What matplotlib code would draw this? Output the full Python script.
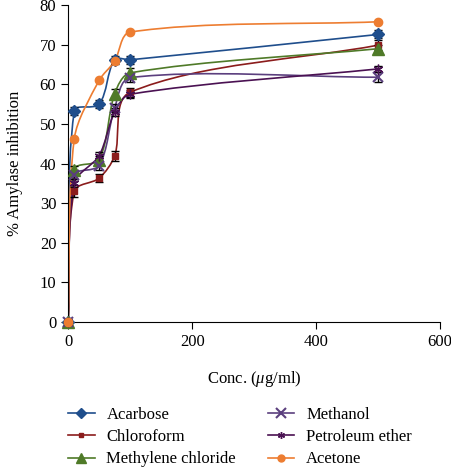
import numpy as np
import matplotlib.pyplot as plt
from matplotlib.path import Path
from matplotlib.patches import PathPatch
from matplotlib.lines import Line2D

plt.rcParams['font.family'] = ['Liberation Serif', 'DejaVu Serif']
plt.rcParams['mathtext.fontset'] = 'custom'
plt.rcParams['mathtext.it'] = 'Liberation Serif:italic'
plt.rcParams['mathtext.rm'] = 'Liberation Serif'

conc = [0, 10, 50, 75, 100, 500]
acarbose = [0, 53.3, 55.0, 66.2, 66.2, 72.6]
chloroform = [0, 33.0, 36.3, 41.9, 58.0, 69.9]
methylene = [0, 38.5, 41.0, 57.6, 62.9, 69.0]
methanol = [0, 37.0, 39.5, 54.0, 61.7, 61.8]
pet_ether = [0, 35.0, 42.0, 53.0, 57.5, 63.9]
acetone = [0, 46.3, 61.0, 65.8, 73.2, 75.8]

err_acarbose = [0.5, 1.0, 1.0, 1.0, 1.0, 1.0]
err_chloroform = [0.5, 1.5, 1.0, 1.2, 1.2, 1.2]
err_methylene = [0.5, 1.0, 1.0, 1.2, 1.2, 1.0]
err_methanol = [0.5, 1.0, 1.0, 1.0, 1.0, 1.2]
err_pet = [0.5, 1.0, 1.0, 1.0, 1.0, 0.8]
err_acetone = [0, 0, 0, 0, 0, 0]

series = [
    ("Acarbose", acarbose, err_acarbose, "#1f4e8c", "D", 6, 5),
    ("Chloroform", chloroform, err_chloroform, "#8b1c1c", "s", 4, 3),
    ("Methylene chloride", methylene, err_methylene, "#4f7a28", "^", 8, 7),
    ("Methanol", methanol, err_methanol, "#5b3f7e", "x", 7, 7),
    ("Petroleum ether", pet_ether, err_pet, "#4a1152", (6, 2, 0), 7, 5),
    ("Acetone", acetone, err_acetone, "#ed7d31", "o", 6, 5),
]

fig = plt.figure(figsize=(4.51, 4.68), dpi=100)
ax = fig.add_axes([0.151, 0.312, 0.825, 0.677])
ax.set_xlim(0, 600)
ax.set_ylim(0, 80)


def smooth_path(x, y, k=0.3):
    # smoothed line like the spreadsheet one, worked out in screen space
    pts = ax.transData.transform(np.column_stack([x, y]))
    n = len(pts)
    verts = [pts[0]]
    codes = [Path.MOVETO]

    def tangent(i):
        a = pts[max(i - 1, 0)]
        b = pts[min(i + 1, n - 1)]
        d = b - a
        return d / np.hypot(*d)

    for i in range(n - 1):
        seg = np.hypot(*(pts[i + 1] - pts[i]))
        c1 = pts[i] + tangent(i) * seg * k
        c2 = pts[i + 1] - tangent(i + 1) * seg * k
        verts += [c1, c2, pts[i + 1]]
        codes += [Path.CURVE4] * 3
    verts = ax.transData.inverted().transform(np.array(verts))
    return Path(verts, codes)


handles = []
for name, vals, err, col, mk, ms, lms in series:
    mew = 1.5 if mk == 'x' else 1
    ax.add_patch(PathPatch(smooth_path(conc, vals), fill=False, edgecolor=col, lw=1.2, zorder=2))
    ax.errorbar(conc, vals, yerr=err, fmt='none', ecolor='black', elinewidth=1, capsize=3, zorder=3)
    ax.plot(conc, vals, linestyle='none', marker=mk, color=col, markersize=ms,
            markeredgewidth=mew, zorder=4, clip_on=False)
    handles.append(Line2D([], [], color=col, marker=mk, markersize=lms, lw=1.2,
                          markeredgewidth=mew, label=name))

ax.set_xticks([0, 200, 400, 600])
ax.set_yticks(range(0, 81, 10))
ax.spines['top'].set_visible(False)
ax.spines['right'].set_visible(False)
ax.tick_params(direction='out', labelsize=12, length=5)
ax.set_xlabel(r"Conc. ($\mu$g/ml)", fontsize=12, labelpad=14)
ax.set_ylabel("% Amylase inhibition", fontsize=12, labelpad=12)

fig.legend(handles=handles, loc='upper left', bbox_to_anchor=(0.151, 0.131), ncol=2,
           frameon=False, fontsize=12, handlelength=1.6, columnspacing=1.9,
           labelspacing=0.38, handletextpad=0.7, borderpad=0, borderaxespad=0)

plt.savefig('out.png')
